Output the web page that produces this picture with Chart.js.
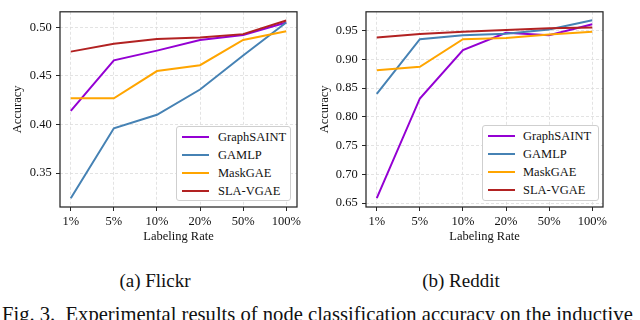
<!DOCTYPE html>
<html>
<head>
<meta charset="utf-8">
<script src="https://cdn.jsdelivr.net/npm/chart.js@4.4.1/dist/chart.umd.min.js"></script>
<style>
  html, body { margin: 0; padding: 0; background: #fff; }
  body { width: 640px; height: 320px; position: relative; overflow: hidden; font-family: "Liberation Serif", "DejaVu Serif", serif; }
  .cv { position: absolute; top: 0; }
  .legend { position: absolute; background: #fff; border: 1px solid #cfcfcf; border-radius: 3px; box-sizing: border-box; }
  .legend .row { position: absolute; left: 0; height: 18px; }
  .legend .swatch { position: absolute; height: 2px; width: 27px; }
  .legend .lab { position: absolute; font-size: 12.5px; line-height: 14px; color: #111; white-space: nowrap; }
  .cap { position: absolute; font-size: 19px; line-height: 19px; color: #111; white-space: nowrap; text-align: center; }
  .fig { position: absolute; left: 2px; top: 304px; font-size: 20.6px; line-height: 20.6px; color: #111; white-space: pre; }
</style>
</head>
<body>
<div class="cv" style="left:0;width:312px;height:260px;"><canvas id="c1"></canvas></div>
<div class="cv" style="left:312px;width:328px;height:260px;"><canvas id="c2"></canvas></div>
<div id="leg1" class="legend" style="left:176px;top:126px;width:115px;height:75px;"></div>
<div id="leg2" class="legend" style="left:482px;top:125px;width:117px;height:76px;"></div>
<div class="cap" style="left:85px;width:140px;top:271px;">(a) Flickr</div>
<div class="cap" style="left:391px;width:140px;top:271px;">(b) Reddit</div>
<div class="fig">Fig. 3.  Experimental results of node classification accuracy on the inductive</div>
<script>
// ---- data ----
const labelingRates = ['1%', '5%', '10%', '20%', '50%', '100%'];
const seriesNames = ['GraphSAINT', 'GAMLP', 'MaskGAE', 'SLA-VGAE'];
const seriesColors = ['#9400D3', '#4682B4', '#FFA500', '#B22222'];

const flickrGraphSAINT = [0.414, 0.466, 0.476, 0.487, 0.492, 0.505];
const flickrGAMLP      = [0.324, 0.396, 0.410, 0.436, 0.471, 0.505];
const flickrMaskGAE    = [0.427, 0.427, 0.455, 0.461, 0.487, 0.496];
const flickrSLAVGAE    = [0.475, 0.483, 0.488, 0.4895, 0.493, 0.507];

const redditGraphSAINT = [0.659, 0.832, 0.916, 0.946, 0.942, 0.961];
const redditGAMLP      = [0.840, 0.935, 0.942, 0.9445, 0.952, 0.968];
const redditMaskGAE    = [0.881, 0.887, 0.935, 0.937, 0.943, 0.948];
const redditSLAVGAE    = [0.938, 0.944, 0.948, 0.951, 0.954, 0.9555];

const flickrTicks = [0.35, 0.40, 0.45, 0.50];
const redditTicks = [0.65, 0.70, 0.75, 0.80, 0.85, 0.90, 0.95];

// ---- chart building ----
const FONT = { family: '"Liberation Serif", "DejaVu Serif", serif', size: 12.5 };

const framePlugin = {
  id: 'frame',
  afterDraw(chart) {
    const a = chart.chartArea, ctx = chart.ctx;
    ctx.save();
    ctx.strokeStyle = '#262626';
    ctx.lineWidth = 1.25;
    ctx.strokeRect(a.left, a.top, a.right - a.left, a.bottom - a.top);
    ctx.restore();
  }
};

function makeChart(canvasId, seriesList, yTicks, yMin, yMax, opts) {
  const datasets = seriesList.map((vals, i) => ({
    label: seriesNames[i],
    data: vals.map((v, k) => ({ x: k, y: v })),
    borderColor: seriesColors[i],
    backgroundColor: seriesColors[i],
    borderWidth: 2,
    pointRadius: 0,
    tension: 0,
    order: seriesList.length - i
  }));
  const gridCommon = {
    color: '#dcdcdc',
    lineWidth: 0.8,
    tickColor: '#262626',
    tickWidth: 1,
    tickLength: 4,
    tickBorderDash: [],
    drawTicks: true
  };
  return new Chart(document.getElementById(canvasId), {
    type: 'line',
    data: { datasets },
    plugins: [framePlugin],
    options: {
      responsive: true,
      maintainAspectRatio: false,
      animation: false,
      events: [],
      layout: { padding: { left: 0, right: opts.padRight, top: 2, bottom: 16 } },
      plugins: { legend: { display: false }, tooltip: { enabled: false } },
      scales: {
        x: {
          type: 'linear',
          min: -0.25,
          max: 5.25,
          afterBuildTicks: (s) => { s.ticks = labelingRates.map((_, i) => ({ value: i })); },
          afterFit: (s) => { s.height = 37; },
          ticks: {
            font: FONT, color: '#111', padding: 3,
            maxRotation: 0, autoSkip: false,
            callback: (v) => labelingRates[v]
          },
          grid: Object.assign({ borderDash: [3, 2] }, gridCommon),
          border: { display: false, dash: [3, 2] },
          title: { display: true, text: 'Labeling Rate', font: FONT, color: '#111', padding: { top: 0, bottom: 0 } }
        },
        y: {
          type: 'linear',
          min: yMin,
          max: yMax,
          afterBuildTicks: (s) => { s.ticks = yTicks.map(v => ({ value: v })); },
          afterFit: (s) => { s.width = opts.yWidth; },
          ticks: {
            font: FONT, color: '#111', padding: 4.3,
            callback: (v) => v.toFixed(2)
          },
          grid: Object.assign({}, gridCommon),
          border: { display: false, dash: [3, 2] },
          title: { display: true, text: 'Accuracy', font: FONT, color: '#111', padding: { top: opts.titlePad, bottom: 0 } }
        }
      }
    }
  });
}

function buildLegend(elId, rowTops, lineLeft, textLeft) {
  const el = document.getElementById(elId);
  seriesNames.forEach((name, i) => {
    const row = document.createElement('div');
    row.className = 'row';
    row.style.top = rowTops[i] + 'px';
    const sw = document.createElement('div');
    sw.className = 'swatch';
    sw.style.background = seriesColors[i];
    sw.style.left = lineLeft + 'px';
    sw.style.top = '8px';
    const lab = document.createElement('div');
    lab.className = 'lab';
    lab.textContent = name;
    lab.style.left = textLeft + 'px';
    lab.style.top = '2px';
    row.appendChild(sw);
    row.appendChild(lab);
    el.appendChild(row);
  });
}

// grid dashes via dataset-independent hook
Chart.defaults.scales.linear.grid = Chart.defaults.scales.linear.grid || {};

const c1 = makeChart('c1', [flickrGraphSAINT, flickrGAMLP, flickrMaskGAE, flickrSLAVGAE],
  flickrTicks, 0.315, 0.516, { padRight: 15, yWidth: 60, titlePad: 10.5 });
const c2 = makeChart('c2', [redditGraphSAINT, redditGAMLP, redditMaskGAE, redditSLAVGAE],
  redditTicks, 0.6434, 0.9826, { padRight: 37, yWidth: 54, titlePad: 5.5 });

buildLegend('leg1', [1, 18.5, 37, 55], 5, 41);
buildLegend('leg2', [1, 18.5, 37, 55], 5, 40);
</script>
</body>
</html>
